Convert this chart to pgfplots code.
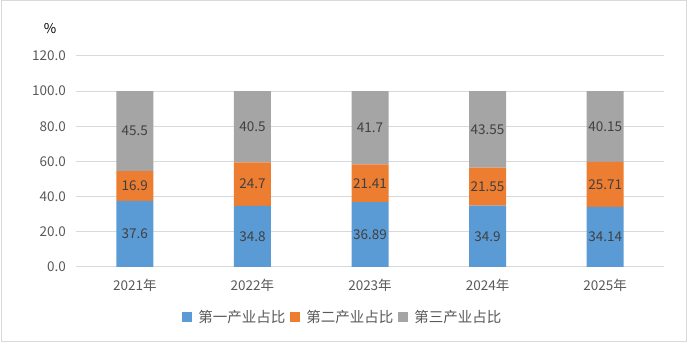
\documentclass[border=0pt]{standalone}
\usepackage{pgfplots}
\usepackage{pgfplotstable}
\pgfplotsset{compat=1.18}
\usepackage{fontspec}
\setmainfont{Noto Sans CJK SC}
\definecolor{cA}{HTML}{5B9BD5}
\definecolor{cB}{HTML}{ED7D31}
\definecolor{cC}{HTML}{A5A5A5}
\definecolor{gridc}{HTML}{D9D9D9}
\definecolor{txt}{HTML}{595959}
\definecolor{lbl}{HTML}{404040}
\pgfplotstableread{
x a b c
0 37.6 16.9 45.5
1 34.8 24.7 40.5
2 36.89 21.41 41.7
3 34.9 21.55 43.55
4 34.14 25.71 40.15
}\datatable
\begin{document}
\begin{tikzpicture}[x=1pt,y=1pt]
\useasboundingbox (0,0) rectangle (688,344);
\draw[gridc, line width=1pt] (1,2) rectangle (686,343);
\node[font=\fontsize{13.5}{15}\selectfont, text=black, inner sep=0] at (50,315) {\%};
\begin{axis}[
  at={(76pt,77pt)}, anchor=south west,
  scale only axis, width=588pt, height=211pt,
  ybar stacked, bar width=37pt,
  xmin=-0.5, xmax=4.5, ymin=0, ymax=120,
  xtick={0,1,2,3,4},
  xticklabels={2021年,2022年,2023年,2024年,2025年},
  ytick={0,20,...,120},
  axis line style={draw=none},
  major tick length=0pt,
  ymajorgrids, grid style={gridc, line width=1pt},
  /pgf/number format/assume math mode=true,
  yticklabel style={/pgf/number format/fixed, /pgf/number format/fixed zerofill, /pgf/number format/precision=1, inner sep=0pt, anchor=east, xshift=-10pt},
  xticklabel style={inner sep=0pt, anchor=north, yshift=-12pt},
  every tick label/.append style={font=\fontsize{13.5}{15}\selectfont, text=txt},
  point meta=explicit symbolic,
  nodes near coords,
  every node near coord/.append style={font=\fontsize{13.5}{15}\selectfont, text=lbl, anchor=center, inner sep=0pt},
  every axis plot post/.append style={draw=none, legend image code/.code={\fill[##1] (0pt,-5pt) rectangle (10pt,5pt);}},
  legend columns=3,
  legend style={at={(0.452,-0.237)}, anchor=center, draw=none, fill=none, font=\fontsize{14.5}{16}\selectfont, text=txt, inner sep=0pt,
    nodes={inner sep=0pt},
    /tikz/every odd column/.style={column sep=6pt},
    /tikz/every even column/.style={column sep=5pt}},
]
\addplot[fill=cA] table[x=x, y=a, meta=a] \datatable;
\addplot[fill=cB] table[x=x, y=b, meta=b] \datatable;
\addplot[fill=cC] table[x=x, y=c, meta=c] \datatable;
\legend{第一产业占比,第二产业占比,第三产业占比}
\end{axis}
\end{tikzpicture}
\end{document}
